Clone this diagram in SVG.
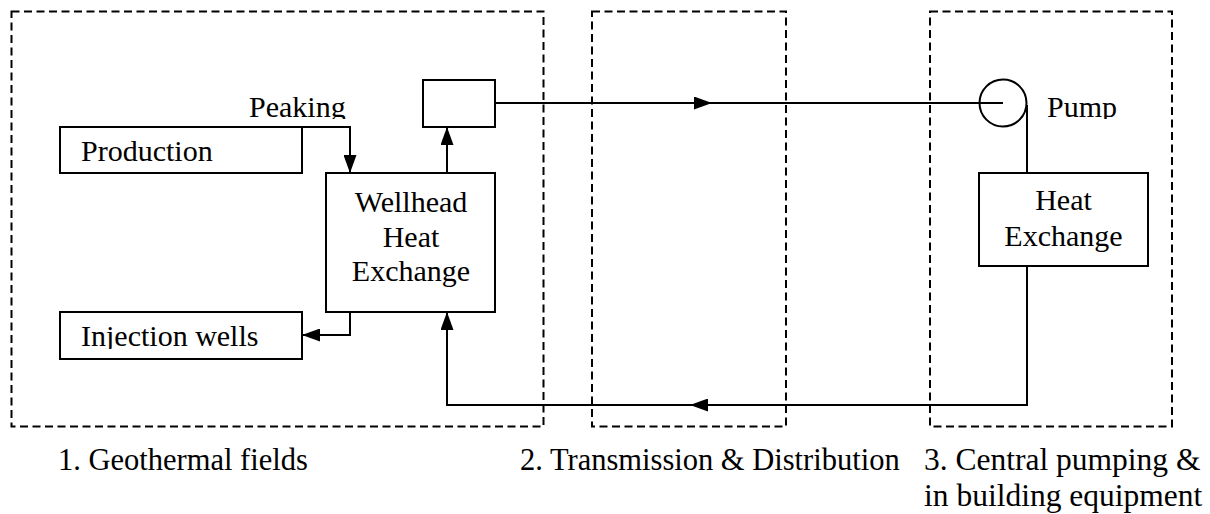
<svg xmlns="http://www.w3.org/2000/svg" width="1210" height="514" viewBox="0 0 1210 514">
  <style>
    .zone { fill: none; stroke: #000; stroke-width: 2; stroke-dasharray: 8 4.5; }
    .box { fill: #fff; stroke: #000; stroke-width: 2; }
    .wire { fill: none; stroke: #000; stroke-width: 2; }
    .lbl { font-family: "Liberation Serif", "Times New Roman", serif; font-size: 30px; fill: #000; }
    .cap { font-size: 30.5px; }
    .cap3 { font-size: 31.5px; }
    .mid { text-anchor: middle; }
  </style>
  <defs>
    <marker id="arrow" viewBox="0 0 18 13" refX="18" refY="6.5" markerWidth="18" markerHeight="13" markerUnits="userSpaceOnUse" orient="auto">
      <path d="M0,0 L18,6.5 L0,13 z" fill="#000"/>
    </marker>
    <!-- text frames that cut off descenders -->
    <clipPath id="clipPeaking"><rect x="240" y="80" width="120" height="39"/></clipPath>
    <clipPath id="clipProduction"><rect x="62" y="129" width="238" height="34"/></clipPath>
    <clipPath id="clipInjection"><rect x="62" y="314" width="238" height="35"/></clipPath>
    <clipPath id="clipPump"><rect x="1040" y="80" width="100" height="39"/></clipPath>
  </defs>

  <!-- system zones -->
  <g id="zones">
    <rect id="zone-geothermal" class="zone" x="11.5" y="11.5" width="532" height="415"/>
    <rect id="zone-transmission" class="zone" x="592" y="11.5" width="194" height="415"/>
    <rect id="zone-building" class="zone" x="930" y="11.5" width="242" height="415"/>
  </g>

  <!-- connectors -->
  <g id="connectors">
    <path class="wire" d="M302,127 H350 V173" marker-end="url(#arrow)"/>
    <path class="wire" d="M447,173 V127" marker-end="url(#arrow)"/>
    <path class="wire" d="M350,312 V335 H302" marker-end="url(#arrow)"/>
    <!-- supply line to the pump -->
    <path class="wire" d="M495,103 H712" marker-end="url(#arrow)"/>
    <path class="wire" d="M712,103 H1003"/>
    <path class="wire" d="M1027,105 V173"/>
    <!-- return line to the wellhead exchanger -->
    <path class="wire" d="M1027,266 V405 H690" marker-end="url(#arrow)"/>
    <path class="wire" d="M690,405 H447 V312" marker-end="url(#arrow)"/>
  </g>

  <!-- geothermal field equipment -->
  <g id="node-peaking">
    <rect class="box" x="423" y="80" width="72" height="47"/>
    <text class="lbl" x="249" y="117" clip-path="url(#clipPeaking)">Peaking</text>
  </g>
  <g id="node-production">
    <rect class="box" x="60" y="127" width="242" height="46"/>
    <text class="lbl" x="81" y="161" clip-path="url(#clipProduction)">Production</text>
  </g>
  <g id="node-wellhead">
    <rect class="box" x="326" y="173" width="169" height="139"/>
    <text class="lbl mid" x="411" y="212">Wellhead</text>
    <text class="lbl mid" x="411" y="247">Heat</text>
    <text class="lbl mid" x="411" y="281">Exchange</text>
  </g>
  <g id="node-injection">
    <rect class="box" x="60" y="312" width="242" height="47"/>
    <text class="lbl" x="81" y="346" clip-path="url(#clipInjection)">Injection wells</text>
  </g>

  <!-- building equipment -->
  <g id="node-pump">
    <circle cx="1003" cy="103" r="23.5" fill="none" stroke="#000" stroke-width="2"/>
    <text class="lbl" x="1047" y="117" clip-path="url(#clipPump)">Pump</text>
  </g>
  <g id="node-heat-exchange">
    <rect class="box" x="979" y="173" width="169" height="93"/>
    <text class="lbl mid" x="1063.5" y="210">Heat</text>
    <text class="lbl mid" x="1063.5" y="246">Exchange</text>
  </g>

  <!-- zone captions -->
  <g id="captions">
    <text class="lbl cap" x="58" y="470">1. Geothermal fields</text>
    <text class="lbl cap" x="520" y="470">2. Transmission &amp; Distribution</text>
    <text class="lbl cap3" x="924" y="470">3. Central pumping &amp;</text>
    <text class="lbl cap3" x="924" y="506">in building equipment</text>
  </g>
</svg>
